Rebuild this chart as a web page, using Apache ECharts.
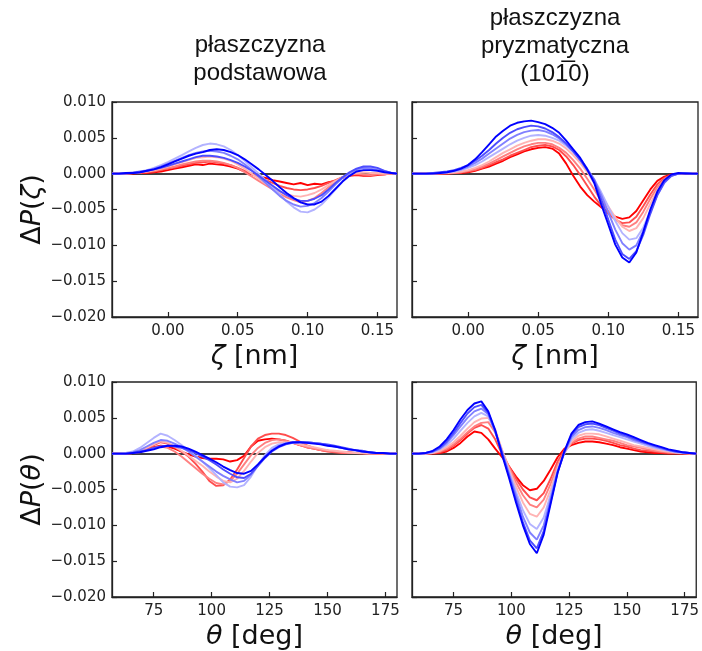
<!DOCTYPE html>
<html><head><meta charset="utf-8">
<script src="https://cdn.jsdelivr.net/npm/echarts@6/dist/echarts.min.js"></script>
<style>html,body{margin:0;padding:0;background:#fff}#c{width:702px;height:651px}</style>
</head><body><div id="c"></div>
<script>
// ---- x grids ----
const zetaX = [-0.040,-0.035,-0.030,-0.025,-0.020,-0.015,-0.010,-0.005,0.000,0.005,0.010,0.015,0.020,0.025,0.030,0.035,0.040,0.045,0.050,0.055,0.060,0.065,0.070,0.075,0.080,0.085,0.090,0.095,0.100,0.105,0.110,0.115,0.120,0.125,0.130,0.135,0.140,0.145,0.150,0.155,0.160,0.164];
const thetaX = [57,60,63,66,69,72,75,78,81,84,87,90,93,96,99,102,105,108,111,114,117,120,123,126,129,132,135,138,141,144,147,150,153,156,159,162,165,168,171,174,177,180];

// ---- tick labels ----
const zetaTicks = [0.00, 0.05, 0.10, 0.15];
const thetaTicks = [75, 100, 125, 150, 175];
const yTicks = [-0.020, -0.015, -0.010, -0.005, 0.000, 0.005, 0.010];

// ---- panel titles ----
const colTitleLeft = ['płaszczyzna', 'podstawowa'];
const colTitleRight = ['płaszczyzna', 'pryzmatyczna', '(101\u03050)'];

// ---- line colours (red -> blue) ----
const lineColors = ['#ff0000','#ff4d4d','#ff8080','#ffb3b3','#b3b3ff','#8080ff','#4d4dff','#0000ff'];

// ---- top-left: ΔP(ζ), basal plane ----
const tl0 = [0,0,0,0,0.0001,0.0001,0.0002,0.0003,0.0005,0.0007,0.0009,0.0011,0.0013,0.0012,0.0014,0.0013,0.0012,0.0010,0.0007,0.0003,-0.0001,-0.0004,-0.0006,-0.0009,-0.0011,-0.0013,-0.0015,-0.0013,-0.0016,-0.0014,-0.0015,-0.0012,-0.0010,-0.0006,-0.0003,-0.0002,-0.0003,-0.0003,-0.0002,-0.0001,0,0];
const tl1 = [0,0,0,0.0001,0.0001,0.0002,0.0003,0.0005,0.0007,0.0009,0.0011,0.0013,0.0015,0.0016,0.0017,0.0016,0.0014,0.0012,0.0008,0.0004,0,-0.0005,-0.0009,-0.0013,-0.0017,-0.0020,-0.0022,-0.0023,-0.0022,-0.0020,-0.0017,-0.0013,-0.0009,-0.0005,-0.0002,-0.0001,-0.0002,-0.0002,-0.0001,-0.0001,0,0];
const tl2 = [0,0,0,0.0001,0.0002,0.0003,0.0004,0.0006,0.0008,0.0010,0.0013,0.0015,0.0017,0.0018,0.0018,0.0017,0.0015,0.0012,0.0008,0.0002,-0.0004,-0.0010,-0.0016,-0.0022,-0.0028,-0.0033,-0.0037,-0.0040,-0.0038,-0.0034,-0.0027,-0.0019,-0.0011,-0.0005,-0.0001,0,-0.0001,-0.0002,-0.0001,-0.0001,0,0];
const tl3 = [0,0,0,0.0001,0.0002,0.0003,0.0005,0.0007,0.0010,0.0013,0.0016,0.0019,0.0022,0.0023,0.0024,0.0023,0.0021,0.0018,0.0013,0.0007,0,-0.0007,-0.0014,-0.0020,-0.0025,-0.0029,-0.0031,-0.0032,-0.0030,-0.0027,-0.0022,-0.0016,-0.0010,-0.0005,-0.0001,0.0001,0.0002,0.0001,0.0001,0,0,0];
const tl4 = [0,0,0.0001,0.0002,0.0003,0.0005,0.0008,0.0012,0.0016,0.0021,0.0026,0.0031,0.0036,0.0040,0.0042,0.0041,0.0038,0.0033,0.0026,0.0018,0.0009,0,-0.0009,-0.0019,-0.0029,-0.0039,-0.0047,-0.0053,-0.0054,-0.0050,-0.0043,-0.0033,-0.0022,-0.0011,-0.0002,0.0005,0.0009,0.0009,0.0007,0.0004,0.0001,0];
const tl5 = [0,0,0.0001,0.0001,0.0003,0.0004,0.0007,0.0010,0.0014,0.0018,0.0022,0.0026,0.0029,0.0031,0.0032,0.0031,0.0029,0.0025,0.0020,0.0013,0.0005,-0.0004,-0.0013,-0.0022,-0.0031,-0.0038,-0.0043,-0.0046,-0.0045,-0.0041,-0.0034,-0.0025,-0.0015,-0.0006,0.0001,0.0006,0.0008,0.0007,0.0005,0.0003,0.0001,0];
const tl6 = [0,0,0,0.0001,0.0002,0.0004,0.0006,0.0008,0.0011,0.0014,0.0017,0.0020,0.0023,0.0025,0.0025,0.0024,0.0022,0.0019,0.0015,0.0010,0.0004,-0.0003,-0.0010,-0.0017,-0.0024,-0.0030,-0.0035,-0.0038,-0.0038,-0.0035,-0.0030,-0.0022,-0.0013,-0.0005,0.0002,0.0007,0.0010,0.0010,0.0008,0.0004,0.0001,0];
const tl7 = [0,0,0.0001,0.0001,0.0002,0.0004,0.0006,0.0009,0.0013,0.0017,0.0021,0.0025,0.0028,0.0030,0.0033,0.0034,0.0033,0.0030,0.0026,0.0020,0.0013,0.0006,-0.0002,-0.0010,-0.0019,-0.0027,-0.0034,-0.0040,-0.0043,-0.0043,-0.0039,-0.0031,-0.0021,-0.0011,-0.0003,0.0003,0.0005,0.0005,0.0004,0.0002,0.0001,0];

// ---- top-right: ΔP(ζ), prismatic plane ----
const tr0 = [0,0,0,0,0,0,0.0001,0.0001,0.0002,0.0004,0.0007,0.0010,0.0014,0.0018,0.0023,0.0027,0.0031,0.0034,0.0036,0.0037,0.0035,0.0028,0.0014,-0.0003,-0.0018,-0.0030,-0.0039,-0.0047,-0.0054,-0.0060,-0.0063,-0.0061,-0.0052,-0.0037,-0.0022,-0.0010,-0.0004,-0.0001,0,0,0,0];
const tr1 = [0,0,0,0,0,0,0.0001,0.0002,0.0003,0.0005,0.0008,0.0012,0.0016,0.0020,0.0025,0.0029,0.0033,0.0037,0.0039,0.0040,0.0038,0.0033,0.0024,0.0012,-0.0002,-0.0017,-0.0032,-0.0045,-0.0056,-0.0064,-0.0069,-0.0068,-0.0060,-0.0045,-0.0029,-0.0015,-0.0006,-0.0002,0,0,0,0];
const tr2 = [0,0,0,0,0,0.0001,0.0001,0.0002,0.0004,0.0006,0.0010,0.0014,0.0019,0.0024,0.0029,0.0034,0.0038,0.0041,0.0043,0.0043,0.0041,0.0036,0.0029,0.0019,0.0007,-0.0007,-0.0022,-0.0038,-0.0052,-0.0063,-0.0072,-0.0074,-0.0068,-0.0053,-0.0035,-0.0019,-0.0008,-0.0002,0,0,0,0];
const tr3 = [0,0,0,0,0.0001,0.0001,0.0002,0.0003,0.0005,0.0008,0.0012,0.0017,0.0023,0.0029,0.0034,0.0039,0.0043,0.0046,0.0048,0.0048,0.0046,0.0042,0.0035,0.0026,0.0015,0.0002,-0.0013,-0.0030,-0.0046,-0.0061,-0.0074,-0.0080,-0.0076,-0.0062,-0.0042,-0.0023,-0.0010,-0.0003,0,0.0001,0,0];
const tr4 = [0,0,0,0,0.0001,0.0002,0.0003,0.0005,0.0008,0.0012,0.0017,0.0023,0.0029,0.0035,0.0041,0.0046,0.0050,0.0053,0.0054,0.0053,0.0050,0.0046,0.0039,0.0030,0.0019,0.0006,-0.0008,-0.0026,-0.0046,-0.0066,-0.0083,-0.0092,-0.0090,-0.0075,-0.0052,-0.0030,-0.0013,-0.0003,0,0.0001,0,0];
const tr5 = [0,0,0,0.0001,0.0001,0.0002,0.0004,0.0006,0.0010,0.0015,0.0021,0.0028,0.0035,0.0042,0.0049,0.0054,0.0058,0.0060,0.0061,0.0059,0.0055,0.0049,0.0041,0.0031,0.0020,0.0007,-0.0008,-0.0030,-0.0054,-0.0078,-0.0097,-0.0106,-0.0100,-0.0080,-0.0053,-0.0029,-0.0012,-0.0003,0,0.0001,0,0];
const tr6 = [0,0,0,0.0001,0.0002,0.0003,0.0005,0.0008,0.0012,0.0018,0.0025,0.0033,0.0042,0.0050,0.0057,0.0062,0.0065,0.0067,0.0066,0.0063,0.0058,0.0051,0.0042,0.0031,0.0019,0.0005,-0.0010,-0.0036,-0.0064,-0.0092,-0.0112,-0.0119,-0.0108,-0.0085,-0.0056,-0.0030,-0.0012,-0.0003,0,0.0001,0,0];
const tr7 = [0,0,0,0,0.0001,0.0002,0.0004,0.0007,0.0012,0.0020,0.0030,0.0041,0.0052,0.0060,0.0067,0.0071,0.0073,0.0074,0.0072,0.0069,0.0064,0.0057,0.0046,0.0034,0.0022,0.0006,-0.0013,-0.0043,-0.0071,-0.0099,-0.0117,-0.0124,-0.0110,-0.0081,-0.0050,-0.0025,-0.0009,-0.0001,0.0001,0,0,0];

// ---- bottom-left: ΔP(θ), basal plane ----
const bl0 = [0,0,0,0.0001,0.0003,0.0006,0.0009,0.0011,0.0010,0.0007,0.0003,-0.0001,-0.0004,-0.0006,-0.0007,-0.0007,-0.0008,-0.0011,-0.0009,-0.0003,0.0010,0.0018,0.0020,0.0021,0.0020,0.0018,0.0015,0.0012,0.0009,0.0007,0.0005,0.0004,0.0003,0.0002,0.0002,0.0001,0.0001,0.0001,0,0,0,0];
const bl1 = [0,0,0,0.0001,0.0003,0.0007,0.0012,0.0016,0.0014,0.0009,0.0003,-0.0004,-0.0014,-0.0025,-0.0038,-0.0045,-0.0044,-0.0036,-0.0022,-0.0006,0.0010,0.0021,0.0026,0.0028,0.0028,0.0026,0.0022,0.0017,0.0012,0.0008,0.0005,0.0003,0.0002,0.0001,0.0001,0.0001,0,0,0,0,0,0];
const bl2 = [0,0,0,0.0001,0.0002,0.0005,0.0008,0.0010,0.0008,0.0003,-0.0004,-0.0012,-0.0020,-0.0028,-0.0035,-0.0041,-0.0043,-0.0038,-0.0028,-0.0015,-0.0002,0.0008,0.0015,0.0019,0.0020,0.0018,0.0015,0.0012,0.0009,0.0007,0.0005,0.0004,0.0003,0.0002,0.0001,0.0001,0.0001,0,0,0,0,0];
const bl3 = [0,0,0.0001,0.0002,0.0004,0.0008,0.0013,0.0017,0.0015,0.0010,0.0004,-0.0003,-0.0010,-0.0017,-0.0025,-0.0032,-0.0038,-0.0040,-0.0035,-0.0024,-0.0011,0.0001,0.0009,0.0014,0.0016,0.0016,0.0015,0.0013,0.0011,0.0009,0.0007,0.0005,0.0004,0.0003,0.0002,0.0001,0.0001,0,0,0,0,0];
const bl4 = [0,0,0.0001,0.0003,0.0008,0.0015,0.0022,0.0028,0.0025,0.0019,0.0012,0.0005,-0.0003,-0.0011,-0.0020,-0.0030,-0.0040,-0.0046,-0.0047,-0.0044,-0.0032,-0.0016,-0.0002,0.0008,0.0013,0.0015,0.0016,0.0016,0.0016,0.0015,0.0014,0.0012,0.0010,0.0008,0.0006,0.0004,0.0003,0.0002,0.0001,0.0001,0,0];
const bl5 = [0,0,0,0.0002,0.0005,0.0010,0.0015,0.0019,0.0018,0.0014,0.0009,0.0003,-0.0004,-0.0011,-0.0018,-0.0025,-0.0031,-0.0036,-0.0040,-0.0038,-0.0029,-0.0016,-0.0004,0.0005,0.0011,0.0014,0.0015,0.0016,0.0016,0.0015,0.0014,0.0012,0.0010,0.0008,0.0006,0.0005,0.0003,0.0002,0.0001,0.0001,0,0];
const bl6 = [0,0,0,0.0001,0.0003,0.0005,0.0008,0.0010,0.0011,0.0010,0.0008,0.0005,0.0001,-0.0004,-0.0009,-0.0015,-0.0022,-0.0028,-0.0033,-0.0034,-0.0028,-0.0017,-0.0006,0.0003,0.0009,0.0013,0.0015,0.0016,0.0016,0.0015,0.0014,0.0013,0.0011,0.0009,0.0007,0.0005,0.0004,0.0002,0.0001,0.0001,0,0];
const bl7 = [0,0,0,0.0001,0.0002,0.0004,0.0006,0.0009,0.0011,0.0011,0.0010,0.0007,0.0003,-0.0002,-0.0007,-0.0012,-0.0018,-0.0023,-0.0027,-0.0028,-0.0024,-0.0015,-0.0005,0.0004,0.0010,0.0014,0.0016,0.0016,0.0015,0.0014,0.0013,0.0011,0.0010,0.0008,0.0006,0.0005,0.0003,0.0002,0.0001,0.0001,0,0];

// ---- bottom-right: ΔP(θ), prismatic plane ----
const br0 = [0,0,0,0,0.0001,0.0003,0.0008,0.0015,0.0024,0.0031,0.0029,0.0020,0.0007,-0.0005,-0.0018,-0.0032,-0.0044,-0.0051,-0.0049,-0.0038,-0.0022,-0.0005,0.0007,0.0012,0.0015,0.0017,0.0017,0.0016,0.0014,0.0012,0.0009,0.0007,0.0005,0.0003,0.0002,0.0001,0.0001,0,0,0,0,0];
const br1 = [0,0,0,0.0001,0.0002,0.0005,0.0011,0.0019,0.0028,0.0036,0.0040,0.0035,0.0020,-0.0001,-0.0018,-0.0035,-0.0050,-0.0061,-0.0065,-0.0055,-0.0035,-0.0011,0.0005,0.0014,0.0019,0.0021,0.0021,0.0020,0.0018,0.0015,0.0012,0.0010,0.0007,0.0005,0.0004,0.0003,0.0002,0.0001,0.0001,0,0,0];
const br2 = [0,0,0,0.0001,0.0003,0.0007,0.0013,0.0021,0.0030,0.0038,0.0043,0.0044,0.0030,0.0004,-0.0019,-0.0040,-0.0058,-0.0071,-0.0075,-0.0064,-0.0042,-0.0016,0.0002,0.0015,0.0021,0.0024,0.0024,0.0022,0.0020,0.0018,0.0015,0.0012,0.0010,0.0008,0.0006,0.0004,0.0003,0.0002,0.0001,0.0001,0,0];
const br3 = [0,0,0,0.0001,0.0004,0.0009,0.0016,0.0025,0.0035,0.0044,0.0049,0.0050,0.0034,0.0005,-0.0022,-0.0046,-0.0068,-0.0084,-0.0088,-0.0075,-0.0050,-0.0020,0.0001,0.0017,0.0025,0.0028,0.0028,0.0027,0.0024,0.0021,0.0018,0.0015,0.0012,0.0010,0.0008,0.0006,0.0004,0.0003,0.0002,0.0001,0,0];
const br4 = [0,0,0,0.0002,0.0006,0.0012,0.0021,0.0032,0.0043,0.0052,0.0057,0.0052,0.0031,0.0003,-0.0025,-0.0053,-0.0079,-0.0098,-0.0105,-0.0089,-0.0057,-0.0023,0.0001,0.0020,0.0029,0.0033,0.0034,0.0032,0.0029,0.0026,0.0023,0.0020,0.0017,0.0014,0.0011,0.0008,0.0006,0.0004,0.0002,0.0001,0.0001,0];
const br5 = [0,0,0.0001,0.0003,0.0007,0.0015,0.0026,0.0038,0.0050,0.0059,0.0063,0.0055,0.0031,0.0002,-0.0028,-0.0058,-0.0088,-0.0110,-0.0120,-0.0100,-0.0063,-0.0025,0.0002,0.0023,0.0033,0.0037,0.0038,0.0036,0.0033,0.0029,0.0026,0.0023,0.0019,0.0016,0.0013,0.0010,0.0007,0.0005,0.0003,0.0002,0.0001,0];
const br6 = [0,0,0.0001,0.0003,0.0008,0.0017,0.0029,0.0043,0.0056,0.0065,0.0068,0.0057,0.0031,0.0001,-0.0031,-0.0064,-0.0096,-0.0121,-0.0132,-0.0108,-0.0067,-0.0026,0.0003,0.0026,0.0037,0.0041,0.0042,0.0040,0.0036,0.0032,0.0028,0.0025,0.0021,0.0017,0.0014,0.0011,0.0008,0.0005,0.0003,0.0002,0.0001,0];
const br7 = [0,0,0.0001,0.0004,0.0010,0.0020,0.0033,0.0048,0.0061,0.0070,0.0073,0.0059,0.0033,-0.0002,-0.0034,-0.0068,-0.0100,-0.0126,-0.0139,-0.0113,-0.0070,-0.0027,0.0004,0.0028,0.0040,0.0044,0.0045,0.0042,0.0038,0.0034,0.0030,0.0027,0.0023,0.0019,0.0015,0.0012,0.0009,0.0006,0.0004,0.0002,0.0001,0];

const panels = [
  {xs: zetaX, ys: [tl0,tl1,tl2,tl3,tl4,tl5,tl6,tl7]},
  {xs: zetaX, ys: [tr0,tr1,tr2,tr3,tr4,tr5,tr6,tr7]},
  {xs: thetaX, ys: [bl0,bl1,bl2,bl3,bl4,bl5,bl6,bl7]},
  {xs: thetaX, ys: [br0,br1,br2,br3,br4,br5,br6,br7]}
];

const chart = echarts.init(document.getElementById('c'), null, {renderer:'canvas'});
const AX = '#222';
const tickFont = {fontFamily:'DejaVu Sans', fontSize:15, color:'#222'};
const nameFont = {fontFamily:'DejaVu Sans', fontSize:27, color:'#111',
  rich:{i:{fontFamily:'DejaVu Sans', fontStyle:'italic', fontSize:27, color:'#111'}}};
const gridPos = [
  {left:112, top:102, width:285, height:215},
  {left:412, top:102, width:286, height:215},
  {left:112, top:382, width:285, height:215},
  {left:412, top:382, width:286, height:215}
];
const grids = gridPos.map(g => Object.assign({show:true, borderColor:AX, borderWidth:1.3, backgroundColor:'transparent'}, g));

const fmtY = v => { if (Math.abs(v) < 1e-9) return '0.000'; const s = v.toFixed(3); return s.replace('-', '\u2212'); };

const xAxes = [0,1,2,3].map(i => {
  const isZ = i < 2;
  const ticks = isZ ? zetaTicks : thetaTicks;
  return {
    gridIndex:i, type:'value',
    min: isZ ? -0.04 : 57, max: isZ ? 0.164 : 180,
    axisLine:{show:true, onZero:false, lineStyle:{color:AX, width:1.3}},
    axisTick:{show:true, inside:true, length:5, customValues:ticks, lineStyle:{color:AX, width:1.2}},
    axisLabel:{show:true, customValues:ticks, margin:7, formatter: v => isZ ? v.toFixed(2) : String(Math.round(v)), ...tickFont},
    splitLine:{show:false},
    name: isZ ? '{i|ζ} [nm]' : '{i|θ} [deg]',
    nameLocation:'middle', nameGap:26, nameTextStyle: nameFont
  };
});
const yAxes = [0,1,2,3].map(i => ({
  gridIndex:i, type:'value', min:-0.02, max:0.01, interval:0.005,
  axisLine:{show:true, onZero:false, lineStyle:{color:AX, width:1.3}},
  axisTick:{show:true, inside:true, length:5, customValues:yTicks, lineStyle:{color:AX, width:1.2}},
  axisLabel:{show: i % 2 === 0, customValues:yTicks, margin:6, formatter: fmtY, ...tickFont},
  splitLine:{show:false},
  name: i % 2 === 0 ? (i === 0 ? 'Δ{i|P}({i|ζ})' : 'Δ{i|P}({i|θ})') : '',
  nameLocation:'middle', nameGap:64, nameRotate:90, nameTextStyle: nameFont
}));

const series = [];
panels.forEach((p, pi) => {
  p.ys.forEach((ys, si) => {
    const s = {
      type:'line', xAxisIndex:pi, yAxisIndex:pi, showSymbol:false, symbol:'none',
      data: p.xs.map((x, k) => [x, ys[k]]),
      lineStyle:{color:lineColors[si], width:1.9}, itemStyle:{color:lineColors[si]},
      z: 3 + si, animation:false
    };
    if (si === 0) {
      s.markLine = {silent:true, symbol:['none','none'], label:{show:false}, animation:false,
        lineStyle:{color:'#000', width:1.5, type:'solid'}, data:[{yAxis:0}], z:1};
    }
    series.push(s);
  });
});

const titleFont = '24px "Liberation Sans Narrow", "Liberation Sans", Arial, sans-serif';
const graphics = [];
colTitleLeft.forEach((t, k) => graphics.push({type:'text', x:260, y:45 + 28*k,
  style:{text:t, font:titleFont, fill:'#111', textAlign:'center', textVerticalAlign:'middle'}}));
colTitleRight.forEach((t, k) => graphics.push({type:'text', x:555, y:18 + 28*k,
  style:{text:t, font:titleFont, fill:'#111', textAlign:'center', textVerticalAlign:'middle'}}));

chart.setOption({
  animation:false,
  backgroundColor:'#fff',
  grid: grids, xAxis: xAxes, yAxis: yAxes, series: series, graphic: graphics
});
</script></body></html>
